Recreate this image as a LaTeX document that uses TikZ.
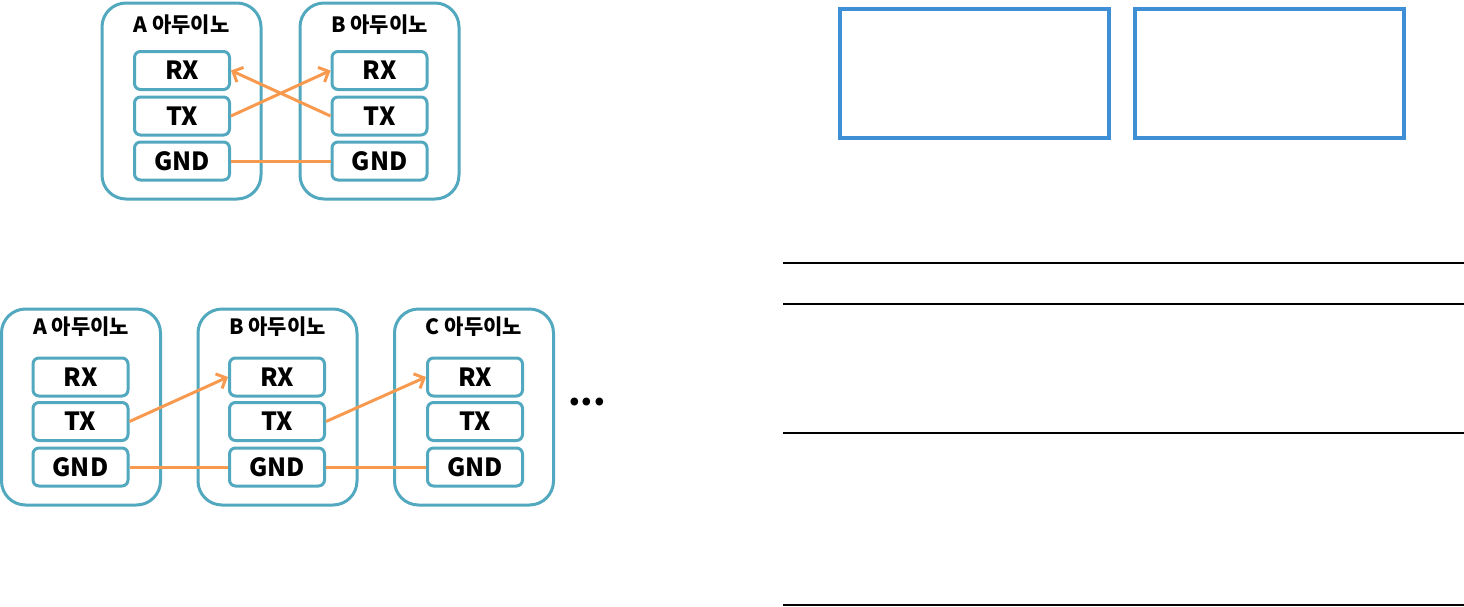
\documentclass[tikz,border=0pt]{standalone}
\usepackage{fontspec}
\setmainfont{Noto Sans CJK KR}
\usepackage{tikz}
\usetikzlibrary{arrows.meta}

\definecolor{boardline}{HTML}{52A8BE}
\definecolor{wire}{HTML}{F79A50}
\definecolor{frameblue}{HTML}{3F8FD7}

\begin{document}
\begin{tikzpicture}[x=0.5pt,y=-0.5pt,
  board/.style={draw=boardline, line width=1.5pt, rounded corners=12pt,
    minimum width=79.5pt, minimum height=98pt},
  pin/.style={draw=boardline, line width=1.5pt, rounded corners=3pt,
    minimum width=47.5pt, minimum height=19pt, font=\fontsize{12.5}{12.5}\selectfont\bfseries},
  title/.style={font=\fontsize{10.5}{11}\selectfont\bfseries},
  link/.style={wire, line width=1.5pt},
  sig/.style={link, -{Straight Barb[length=4pt,width=8pt,line width=1.5pt]}}]
\useasboundingbox (0,0) rectangle (1464,606);
% first picture: two boards, crossed
\node[board] (A1) at (181.5,101) {};
\node[board] (B1) at (379.5,101) {};
\node[title] (tA1) at (181.5,25) {A 아두이노};
\node[title] (tB1) at (379.5,25) {B 아두이노};
\node[pin] (A1rx) at (182,70.5) {RX};
\node[pin] (A1tx) at (182,116) {TX};
\node[pin] (A1gnd) at (182,161) {GND};
\node[pin] (B1rx) at (379.5,70.5) {RX};
\node[pin] (B1tx) at (379.5,116) {TX};
\node[pin] (B1gnd) at (379.5,161) {GND};
\draw[sig] (A1tx.east)--(B1rx.west);
\draw[sig] (B1tx.west)--(A1rx.east);
\draw[link] (A1gnd.east)--(B1gnd.west);
% second picture: chain of boards
\node[board] (A2) at (81,407) {};
\node[board] (B2) at (277.5,407) {};
\node[board] (C2) at (474,407) {};
\node[title] (tA2) at (81,327) {A 아두이노};
\node[title] (tB2) at (277.5,327) {B 아두이노};
\node[title] (tC2) at (474,327) {C 아두이노};
\node[pin] (A2rx) at (80.5,377) {RX};
\node[pin] (A2tx) at (80.5,421.5) {TX};
\node[pin] (A2gnd) at (80.5,467) {GND};
\node[pin] (B2rx) at (277,377) {RX};
\node[pin] (B2tx) at (277,421.5) {TX};
\node[pin] (B2gnd) at (277,467) {GND};
\node[pin] (C2rx) at (475,377) {RX};
\node[pin] (C2tx) at (475,421.5) {TX};
\node[pin] (C2gnd) at (475,467) {GND};
\draw[sig] (A2tx.east)--(B2rx.west);
\draw[sig] (B2tx.east)--(C2rx.west);
\draw[link] (A2gnd.east)--(B2gnd.west);
\draw[link] (B2gnd.east)--(C2gnd.west);
\node[font=\fontsize{18}{18}\selectfont\bfseries] (more) at (587,402) {...};
% right side: empty frames and rules
\draw[frameblue, line width=2pt] (840,9) rectangle (1109,138);
\draw[frameblue, line width=2pt] (1135,9) rectangle (1404,138);
\draw[line width=1pt] (783,263)--(1464,263);
\draw[line width=1pt] (783,304)--(1464,304);
\draw[line width=1pt] (783,433)--(1464,433);
\draw[line width=1pt] (783,605)--(1464,605);
\end{tikzpicture}
\end{document}
